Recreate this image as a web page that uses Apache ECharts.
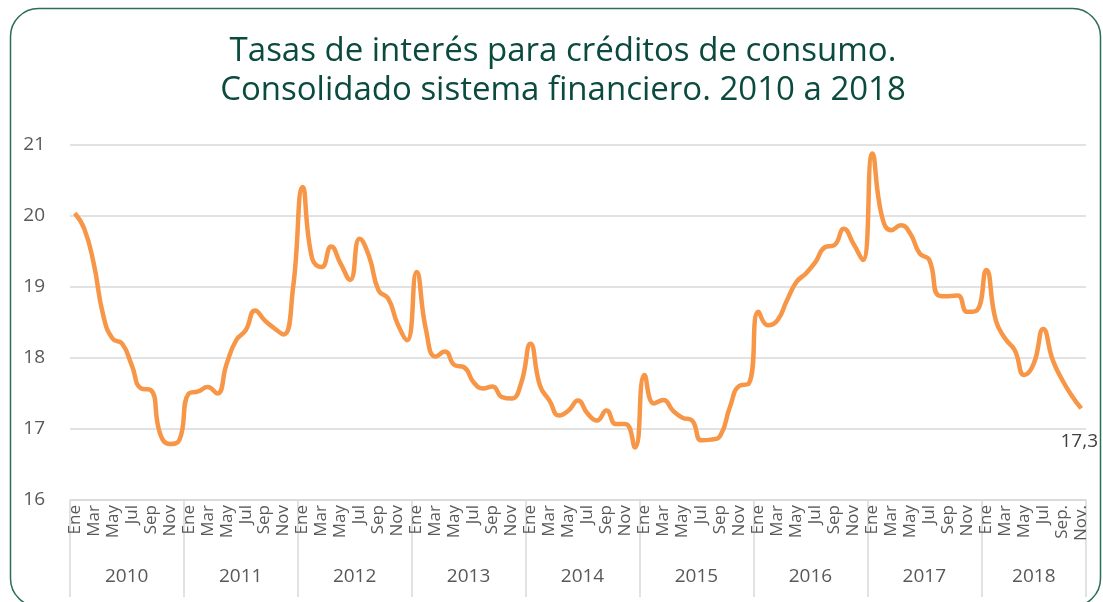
<!DOCTYPE html>
<html>
<head>
<meta charset="utf-8">
<title>Tasas de interés para créditos de consumo</title>
<script src="https://cdn.jsdelivr.net/npm/echarts@6/dist/echarts.min.js"></script>
<style>
  html, body { margin: 0; padding: 0; background: #fff; }
  #chart { width: 1103px; height: 602px; }
</style>
</head>
<body>
<div id="chart"></div>
<script>
// años y etiquetas de meses
const anios = ['2010', '2011', '2012', '2013', '2014', '2015', '2016', '2017', '2018'];
const mesesAnio = ['Ene', 'Feb', 'Mar', 'Abr', 'May', 'Jun', 'Jul', 'Ago', 'Sep', 'Oct', 'Nov', 'Dic'];
const meses2018 = ['Ene', 'Feb', 'Mar', 'Abr', 'May', 'Jun', 'Jul', 'Ago', 'Sep.', 'Oct.', 'Nov.'];

// tasas mensuales (%)
const tasas2010 = [20.04, 19.82, 19.33, 18.60, 18.27, 18.20, 17.90, 17.57, 17.55, 16.93, 16.79, 16.84];
const tasas2011 = [17.50, 17.53, 17.59, 17.50, 17.92, 18.25, 18.39, 18.67, 18.53, 18.42, 18.33, 19.00];
const tasas2012 = [20.41, 19.40, 19.28, 19.57, 19.33, 19.10, 19.68, 19.43, 18.95, 18.84, 18.48, 18.25];
const tasas2013 = [19.21, 18.39, 18.02, 18.09, 17.90, 17.87, 17.66, 17.57, 17.60, 17.45, 17.43, 17.64];
const tasas2014 = [18.20, 17.61, 17.40, 17.19, 17.26, 17.40, 17.22, 17.12, 17.26, 17.07, 17.07, 16.74];
const tasas2015 = [17.76, 17.36, 17.41, 17.26, 17.16, 17.12, 16.84, 16.85, 16.91, 17.31, 17.61, 17.64];
const tasas2016 = [18.65, 18.46, 18.53, 18.81, 19.07, 19.19, 19.35, 19.56, 19.59, 19.82, 19.61, 19.38];
const tasas2017 = [20.88, 20.00, 19.80, 19.87, 19.75, 19.47, 19.38, 18.88, 18.87, 18.88, 18.65, 18.67];
const tasas2018 = [19.24, 18.53, 18.27, 18.11, 17.76, 17.92, 18.41, 17.97, 17.69, 17.47, 17.29];

const tasasPorAnio = [tasas2010, tasas2011, tasas2012, tasas2013, tasas2014, tasas2015, tasas2016, tasas2017, tasas2018];

// categorías del eje: un punto por mes
const mesesCat = [];
const aniosCat = [];
const inicioAnio = new Set();
const etiquetaAnio = new Set();
let tasas = [];
tasasPorAnio.forEach((vals, k) => {
  const etiquetas = vals.length === 12 ? mesesAnio : meses2018;
  inicioAnio.add(mesesCat.length);
  etiquetaAnio.add(mesesCat.length + 5);
  vals.forEach((v, j) => {
    mesesCat.push(etiquetas[j]);
    aniosCat.push(anios[k]);
  });
  tasas = tasas.concat(vals);
});

const fuente = '"Open Sans", "Noto Sans", sans-serif';
const gris = '#595959';

const chart = echarts.init(document.getElementById('chart'));

chart.setOption({
  backgroundColor: '#fff',
  title: {
    text: 'Tasas de interés para créditos de consumo.\nConsolidado sistema financiero. 2010 a 2018',
    left: 558,
    top: 27,
    textAlign: 'center',
    textStyle: {
      color: '#0b4a3e',
      fontFamily: fuente,
      fontWeight: 'normal',
      fontSize: 33,
      lineHeight: 39
    }
  },
  graphic: [{
    type: 'rect',
    shape: { x: 10.5, y: 8.5, width: 1090, height: 598, r: 28 },
    style: { fill: 'none', stroke: '#2e6b5a', lineWidth: 1.5 },
    silent: true
  }],
  grid: {
    left: 70,
    right: 17,
    top: 145,
    bottom: 102
  },
  xAxis: [
    {
      type: 'category',
      data: mesesCat,
      boundaryGap: true,
      axisLine: { show: true, lineStyle: { color: '#d9d9d9', width: 1.5 } },
      axisTick: { show: false },
      axisLabel: {
        interval: 1,
        rotate: 90,
        margin: 5,
        fontSize: 17,
        color: gris,
        fontFamily: fuente
      }
    },
    {
      type: 'category',
      data: aniosCat,
      position: 'bottom',
      offset: 0,
      boundaryGap: true,
      axisLine: { show: false },
      axisTick: {
        show: true,
        length: 97,
        interval: (i) => inicioAnio.has(i),
        lineStyle: { color: '#d9d9d9', width: 1.5 }
      },
      axisLabel: {
        interval: (i) => etiquetaAnio.has(i),
        margin: 67,
        fontSize: 19,
        color: gris,
        fontFamily: fuente,
        formatter: (v) => v === '2018' ? '{b|' + v + '}' : '{a|' + v + '}',
        rich: {
          a: { padding: [0, 0, 0, 9], fontSize: 19, color: gris, fontFamily: fuente },
          b: { fontSize: 19, color: gris, fontFamily: fuente }
        }
      }
    }
  ],
  yAxis: {
    type: 'value',
    min: 16,
    max: 21,
    interval: 1,
    axisLine: { show: false },
    axisTick: { show: false },
    axisLabel: { fontSize: 19, color: gris, margin: 25, fontFamily: fuente },
    splitLine: { lineStyle: { color: '#d9d9d9', width: 1.5 } }
  },
  series: [{
    type: 'line',
    data: tasas,
    smooth: true,
    showSymbol: false,
    symbol: 'none',
    lineStyle: { color: '#f79646', width: 4.5 },
    itemStyle: { color: '#f79646' },
    endLabel: {
      show: true,
      formatter: (p) => p.value.toFixed(1).replace('.', ','),
      align: 'center',
      verticalAlign: 'middle',
      distance: 0,
      offset: [-2, 33],
      fontSize: 19,
      color: '#404040',
      fontFamily: fuente
    }
  }]
});
</script>
</body>
</html>
